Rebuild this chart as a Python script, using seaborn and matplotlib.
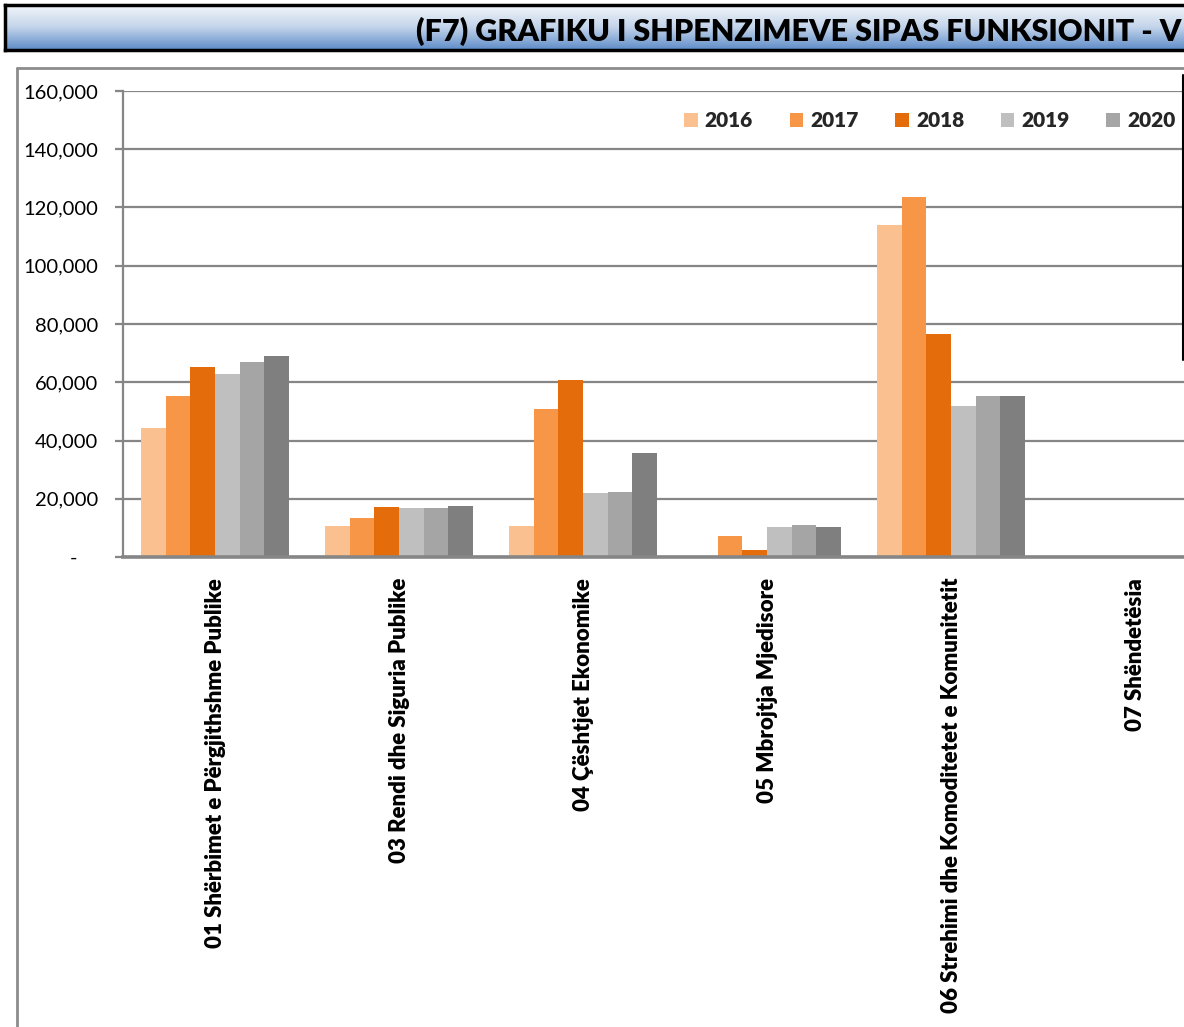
import numpy as np
import pandas as pd
import matplotlib
matplotlib.use("Agg")
import matplotlib.pyplot as plt
import seaborn as sns
from matplotlib.lines import Line2D
from matplotlib.ticker import FuncFormatter


# --- Data ---
categories = [
    "01 Shërbimet e Përgjithshme Publike",
    "03 Rendi dhe Siguria Publike",
    "04 Çështjet Ekonomike",
    "05 Mbrojtja Mjedisore",
    "06 Strehimi dhe Komoditetet e Komunitetit",
    "07 Shëndetësia",
]
years = ["2016", "2017", "2018", "2019", "2020", "2021"]
v2016 = [44300, 10800, 10500, 0, 114000, 0]
v2017 = [55300, 13400, 50900, 7300, 123700, 0]
v2018 = [65300, 17000, 60900, 2500, 76500, 0]
v2019 = [63000, 16800, 22100, 10400, 51700, 0]
v2020 = [66800, 16900, 22200, 11100, 55300, 0]
v2021 = [69000, 17600, 35800, 10400, 55300, 0]
colors = ["#FAC090", "#F79646", "#E46C0A", "#BFBFBF", "#A5A5A5", "#7F7F7F"]
title = "(F7) GRAFIKU I SHPENZIMEVE SIPAS FUNKSIONIT - V"

series = [v2016, v2017, v2018, v2019, v2020, v2021]
rows = []
for yr, vals in zip(years, series):
    for cat, v in zip(categories, vals):
        rows.append({"category": cat, "year": yr, "value": v})
df = pd.DataFrame(rows)


# --- Figure ---
sns.set_theme(style="white")
plt.rcParams["font.family"] = ["Lato", "DejaVu Sans"]

W, H = 1184, 1027
fig = plt.figure(figsize=(W / 100, H / 100), dpi=100)

def px(x0, y0, x1, y1):
    return [x0 / W, 1 - y1 / H, (x1 - x0) / W, (y1 - y0) / H]

ax = fig.add_axes(px(123, 91, 1227, 557))

sns.barplot(
    data=df, x="category", y="value", hue="year",
    hue_order=years, palette=colors, width=0.8,
    linewidth=0, saturation=1, ax=ax,
)

ax.set_xlim(-0.5, len(categories) - 0.5)
ax.set_ylim(0, 160000)
ax.set_yticks(np.arange(0, 160001, 20000))
ax.yaxis.set_major_formatter(
    FuncFormatter(lambda v, p: "-    " if v == 0 else f"{int(v):,}")
)
ax.set_xlabel("")
ax.set_ylabel("")

grey = "#868686"
ax.grid(axis="y", color=grey, linewidth=1.6)
ax.set_axisbelow(True)
for s in ["top", "right"]:
    ax.spines[s].set_visible(False)
ax.spines["left"].set_color(grey)
ax.spines["left"].set_linewidth(1.6)
ax.spines["bottom"].set_color(grey)
ax.spines["bottom"].set_linewidth(2.6)

ax.set_xticks(range(len(categories)))
ax.set_xticklabels(categories, rotation=90)
ax.set_xticks(np.arange(-0.5, len(categories), 1), minor=True)
ax.tick_params(axis="x", which="major", length=0, pad=15)
ax.tick_params(axis="x", which="minor", length=6, width=1.6, color=grey, direction="out")
ax.tick_params(axis="y", length=6, width=1.6, color=grey, direction="out",
               left=True, pad=12, labelsize=14.5, labelcolor="black")
for t in ax.get_xticklabels():
    t.set_fontweight("heavy")
    t.set_fontsize(16)
    t.set_color("black")


# --- Legend (only the entries visible in the cropped original) ---
handles, labels = ax.get_legend_handles_labels()
ax.legend(
    handles[:5], labels[:5], ncol=5, frameon=False,
    loc="upper left", bbox_to_anchor=(684 / W, 1 - 111 / H),
    bbox_transform=fig.transFigure,
    prop={"weight": "heavy", "size": 15},
    handlelength=0.65, handleheight=0.65, handletextpad=0.35,
    columnspacing=1.75, borderpad=0, borderaxespad=0,
)


# --- Title bar ---
tax = fig.add_axes(px(5, 5, 1200, 50))
grad = np.linspace(0, 1, 100).reshape(-1, 1)
cmap = matplotlib.colors.LinearSegmentedColormap.from_list(
    "bar", ["#F4F7FB", "#C3D4EA", "#5F8CC8"])
tax.imshow(grad, aspect="auto", cmap=cmap, extent=[0, 1, 1, 0])
tax.set_xticks([])
tax.set_yticks([])
for s in tax.spines.values():
    s.set_color("black")
    s.set_linewidth(2.5)
fig.text(1181 / W, 1 - 31 / H, title, ha="right", va="center",
         fontsize=22, fontweight="heavy", color="black")


# --- Outer frame lines ---
fig.add_artist(Line2D([17 / W, 17 / W], [0, 1 - 68 / H], color="#8C8C8C", lw=2))
fig.add_artist(Line2D([17 / W, 1], [1 - 68 / H, 1 - 68 / H], color="#8C8C8C", lw=2))
fig.add_artist(Line2D([1183 / W, 1183 / W], [1 - 360 / H, 1 - 75 / H], color="black", lw=1.5))

fig.savefig("out.png", dpi=100)
